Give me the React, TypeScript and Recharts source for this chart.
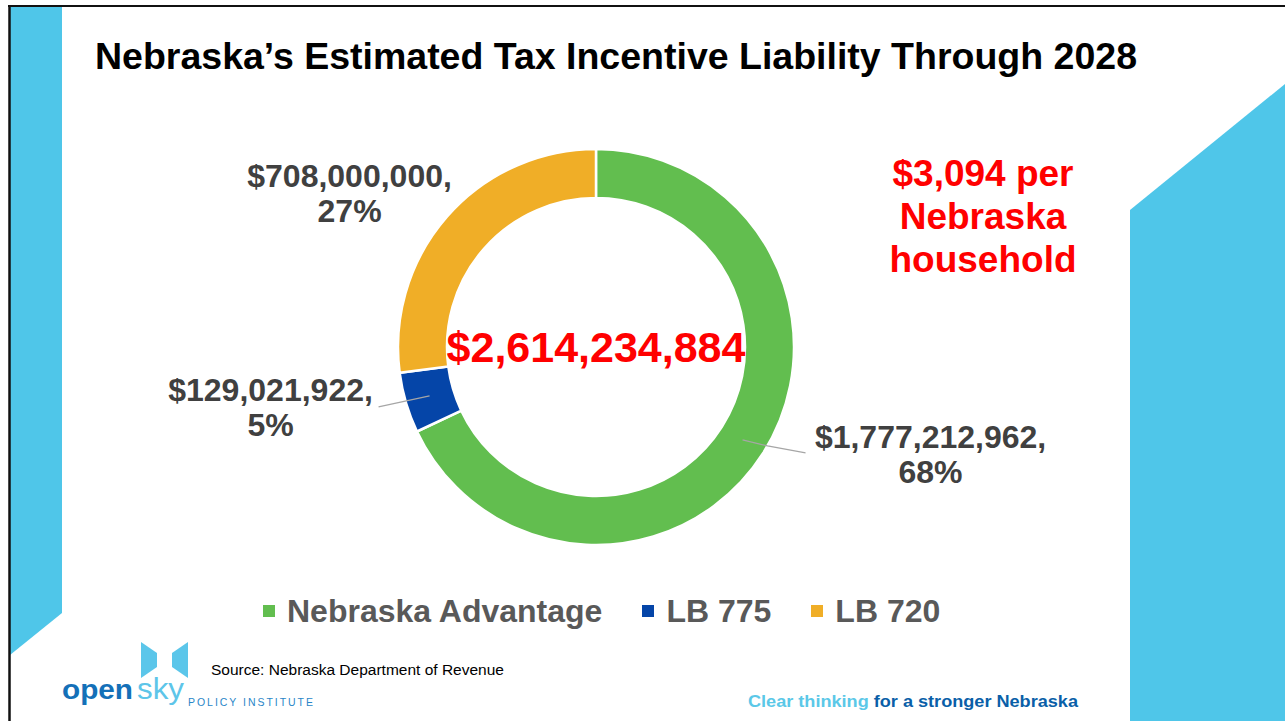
import React from "react";
import { PieChart, Pie, Cell, Legend } from "recharts";

// Estimated liability by program (Nebraska Department of Revenue)
const categories = ["Nebraska Advantage", "LB 775", "LB 720"];
const amounts = [1777212962, 129021922, 708000000];
const colors = ["#62BE4F", "#0545A8", "#F0AE27"];
const perHousehold = 3094;

const total = amounts.reduce((a, b) => a + b, 0);
const data = categories.map((name, i) => ({ name, value: amounts[i] }));

const FONT = "'Liberation Sans', Arial, Helvetica, sans-serif";
const SKY = "#4FC6E9";
const fmt = (n: number) => "$" + n.toLocaleString("en-US");

// where each data label sits relative to the middle of its slice
const labelSpots = [
  { dx: 188, dy: 8, line: [[0, 0], [25, 6], [63, 13]] },
  { dx: -159, dy: 5, line: [[0, 0], [-51, 11]] },
  { dx: -116, dy: -46, line: null as number[][] | null },
];

function renderLabel(props: any) {
  const { cx, cy, midAngle, innerRadius, outerRadius, index, value } = props;
  const RAD = Math.PI / 180;
  const r = (innerRadius + outerRadius) / 2;
  const mx = cx + r * Math.cos(-midAngle * RAD);
  const my = cy + r * Math.sin(-midAngle * RAD);
  const spot = labelSpots[index];
  const pct = Math.round((value / total) * 100);
  const tx = mx + spot.dx;
  return (
    <g>
      {spot.line && (
        <polyline
          points={spot.line.map(([a, b]) => `${mx + a},${my + b}`).join(" ")}
          fill="none"
          stroke="#A6A6A6"
          strokeWidth={1.2}
        />
      )}
      <text
        x={tx}
        y={my + spot.dy}
        textAnchor="middle"
        fontFamily={FONT}
        fontWeight="bold"
        fontSize={32}
        fill="#404040"
      >
        <tspan x={tx}>{fmt(value)},</tspan>
        <tspan x={tx} dy={35}>
          {pct}%
        </tspan>
      </text>
      {index === 0 && (
        <text
          x={cx}
          y={cy + 15}
          textAnchor="middle"
          fontFamily={FONT}
          fontWeight="bold"
          fontSize={43}
          fill="#FF0000"
        >
          {fmt(total)}
        </text>
      )}
    </g>
  );
}

function LegendContent(props: any) {
  const items = [...(props.payload || [])].sort(
    (a: any, b: any) => categories.indexOf(a.value) - categories.indexOf(b.value)
  );
  return (
    <div style={{ display: "flex", alignItems: "center", gap: 40 }}>
      {items.map((p: any) => (
        <div key={p.value} style={{ display: "flex", alignItems: "center" }}>
          <span
            style={{
              display: "inline-block",
              width: 12,
              height: 12,
              background: p.color,
              marginRight: 12,
            }}
          />
          <span
            style={{
              fontFamily: FONT,
              fontWeight: "bold",
              fontSize: 32,
              lineHeight: "40px",
              color: "#595959",
            }}
          >
            {p.value}
          </span>
        </div>
      ))}
    </div>
  );
}

function Backdrop() {
  return (
    <svg width={1285} height={721} style={{ position: "absolute", left: 0, top: 0 }}>
      <rect width={1285} height={721} fill="#fff" />
      <polygon points="10,7 62,7 62,613 10,655" fill={SKY} />
      <polygon points="1130,210 1285,84 1285,721 1130,721" fill={SKY} />
      <line x1={9.5} y1={5} x2={9.5} y2={721} stroke="#111" strokeWidth={2.5} />
      <line x1={8} y1={6} x2={1285} y2={6} stroke="#111" strokeWidth={2} />

      <text
        x={95}
        y={69}
        fontFamily={FONT}
        fontWeight="bold"
        fontSize={36}
        fill="#000"
        textLength={1042}
        lengthAdjust="spacingAndGlyphs"
      >
        Nebraska’s Estimated Tax Incentive Liability Through 2028
      </text>

      <text textAnchor="middle" fontFamily={FONT} fontWeight="bold" fontSize={37} fill="#FF0000">
        <tspan x={983} y={186}>
          {fmt(perHousehold)} per
        </tspan>
        <tspan x={983} y={229}>
          Nebraska
        </tspan>
        <tspan x={983} y={272}>
          household
        </tspan>
      </text>

      {/* logo */}
      <polygon points="141,642 157,653 157,667 141,678" fill="#5BC6EA" />
      <polygon points="188,642 172,653 172,667 188,678" fill="#5BC6EA" />
      <text
        x={62}
        y={699}
        fontFamily={FONT}
        fontWeight="bold"
        fontSize={28}
        fill="#1470B8"
        textLength={71}
        lengthAdjust="spacingAndGlyphs"
      >
        open
      </text>
      <text
        x={137}
        y={699}
        fontFamily={FONT}
        fontSize={30}
        fill="#5DC5E9"
        textLength={47}
        lengthAdjust="spacingAndGlyphs"
      >
        sky
      </text>
      <text
        x={188}
        y={706}
        fontFamily={FONT}
        fontSize={10.5}
        fill="#2A86C8"
        textLength={125}
        lengthAdjust="spacing"
      >
        POLICY INSTITUTE
      </text>
      <text x={211} y={675} fontFamily={FONT} fontSize={15.5} fill="#000">
        Source: Nebraska Department of Revenue
      </text>

      <text
        x={748}
        y={707}
        fontFamily={FONT}
        fontWeight="bold"
        fontSize={16}
        textLength={330}
        lengthAdjust="spacingAndGlyphs"
      >
        <tspan fill="#5BC8E8">Clear thinking </tspan>
        <tspan fill="#0A5FA8">for a stronger Nebraska</tspan>
      </text>
    </svg>
  );
}

export default function App() {
  return (
    <div style={{ position: "absolute", left: 0, top: 0, width: 1285, height: 721, overflow: "hidden" }}>
      <Backdrop />
      <div style={{ position: "absolute", left: 0, top: 0 }}>
        <PieChart width={1285} height={721} margin={{ top: 0, right: 0, bottom: 0, left: 0 }}>
          <Pie
            data={data}
            dataKey="value"
            nameKey="name"
            cx={596}
            cy={347}
            innerRadius={149}
            outerRadius={198}
            startAngle={90}
            endAngle={-270}
            stroke="#FFFFFF"
            strokeWidth={2.5}
            label={renderLabel}
            labelLine={false}
            isAnimationActive={false}
          >
            {data.map((d, i) => (
              <Cell key={d.name} fill={colors[i]} />
            ))}
          </Pie>
          <Legend
            content={<LegendContent />}
            wrapperStyle={{ left: 263, top: 591, width: "auto", bottom: "auto" }}
          />
        </PieChart>
      </div>
    </div>
  );
}
